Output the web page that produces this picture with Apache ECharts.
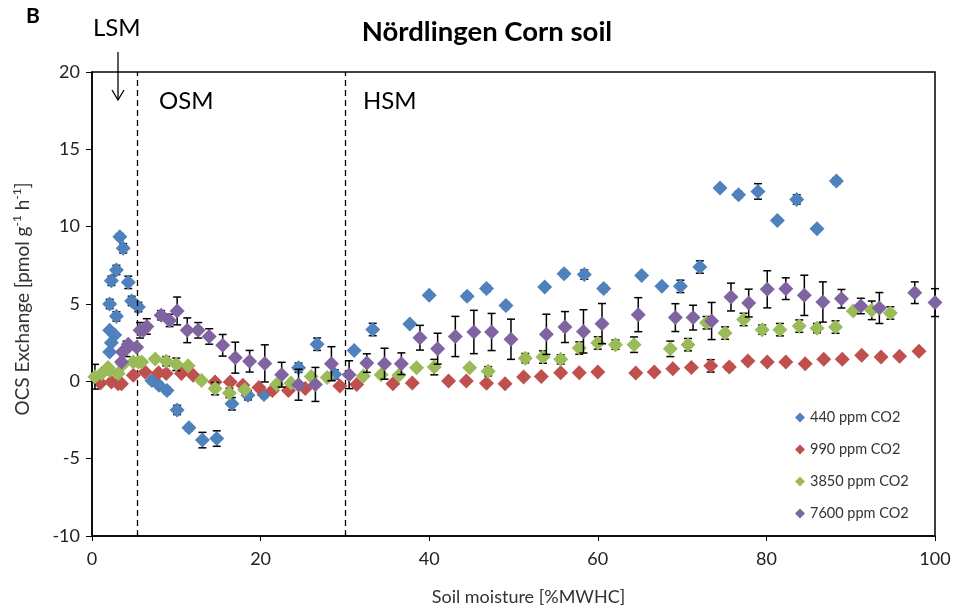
<!doctype html>
<html>
<head>
    <meta charset="UTF-8">
    <title>Nördlingen Corn soil</title>
    <script src="https://cdn.jsdelivr.net/npm/echarts@6/dist/echarts.min.js"></script>
</head>
<body style="margin:0;background:#fff">
<div id="main" style="width:957px;height:616px"></div>
<script type="text/javascript">
    // [soil moisture, OCS exchange, error]
    var co2_440 = [
        [2.1, 1.9, 0], [2.3, 2.5, 0], [2.7, 3.0, 0], [2.1, 3.3, 0], [2.9, 4.2, 0.3], [2.1, 5.0, 0.3],
        [2.3, 6.5, 0.3], [2.9, 7.2, 0.3], [3.3, 9.35, 0.2], [3.7, 8.6, 0.3], [4.3, 6.4, 0.4], [4.7, 5.2, 0.3],
        [5.5, 4.8, 0.3], [7.1, 0.05, 0.2], [7.95, -0.26, 0.2], [8.9, -0.6, 0.2], [10.1, -1.85, 0.3],
        [11.5, -3.0, 0.2], [13.1, -3.8, 0.5], [14.8, -3.7, 0.5], [16.6, -1.45, 0.4], [18.5, -0.9, 0.3],
        [20.4, -0.85, 0.2], [24.5, 0.88, 0.3], [26.7, 2.4, 0.4], [28.8, 0.45, 0.3], [31.1, 2.0, 0],
        [33.3, 3.35, 0.4], [37.7, 3.7, 0], [40.0, 5.56, 0], [44.5, 5.5, 0.2], [46.8, 6.0, 0.2],
        [49.1, 4.9, 0.2], [53.7, 6.1, 0], [56.0, 6.96, 0.2], [58.4, 6.9, 0.3], [60.7, 6.0, 0.2],
        [65.2, 6.85, 0], [67.6, 6.14, 0], [69.8, 6.14, 0.4], [72.1, 7.39, 0.4], [74.5, 12.5, 0],
        [76.7, 12.07, 0.2], [79.0, 12.28, 0.5], [81.3, 10.4, 0], [83.6, 11.76, 0.3], [86.0, 9.87, 0],
        [88.3, 12.95, 0.2]
    ];
    var co2_990 = [
        [1.0, -0.1, 0], [2.3, -0.05, 0], [3.1, -0.15, 0], [3.5, -0.15, 0], [4.9, 0.4, 0], [6.3, 0.6, 0],
        [7.9, 0.55, 0], [8.8, 0.5, 0], [10.6, 0.5, 0], [12.0, 0.4, 0], [14.6, -0.05, 0], [16.4, -0.05, 0],
        [17.9, -0.25, 0], [19.8, -0.4, 0], [21.4, -0.6, 0], [23.3, -0.6, 0], [25.3, -0.47, 0],
        [29.4, -0.3, 0], [31.4, -0.2, 0], [35.7, -0.15, 0], [38.0, -0.1, 0], [42.3, 0.02, 0],
        [44.4, 0.02, 0], [46.8, -0.12, 0], [49.0, -0.15, 0], [51.2, 0.28, 0], [53.3, 0.32, 0],
        [55.6, 0.56, 0], [57.8, 0.56, 0], [60.0, 0.6, 0], [64.5, 0.54, 0], [66.7, 0.6, 0],
        [68.9, 0.82, 0], [71.1, 0.89, 0], [73.4, 1.0, 0.4], [75.6, 0.93, 0.2], [77.8, 1.31, 0],
        [80.1, 1.25, 0], [82.3, 1.25, 0], [84.6, 1.14, 0], [86.8, 1.42, 0], [89.0, 1.42, 0],
        [91.3, 1.68, 0], [93.6, 1.57, 0], [95.8, 1.62, 0], [98.1, 1.94, 0]
    ];
    var co2_3850 = [
        [0.35, 0.3, 0.8], [1.15, 0.5, 0], [1.9, 0.9, 0], [2.1, 0.7, 0], [3.1, 0.5, 0], [3.7, 1.1, 0],
        [4.9, 1.25, 0], [5.5, 1.25, 0], [5.9, 1.25, 0], [7.5, 1.45, 0], [8.8, 1.3, 0.3], [10.0, 1.1, 0.4],
        [11.4, 1.0, 0], [13.0, 0.06, 0], [14.6, -0.47, 0.4], [16.3, -0.75, 0.3], [18.1, -0.54, 0],
        [21.9, -0.2, 0], [23.6, -0.1, 0], [26.0, 0.32, 0], [27.9, 0.24, 0], [32.2, 0.35, 0],
        [34.3, 0.43, 0], [36.4, 0.39, 0], [38.5, 0.88, 0], [40.6, 0.92, 0.5], [44.8, 0.88, 0],
        [47.0, 0.65, 0.3], [51.4, 1.5, 0.3], [53.5, 1.57, 0.4], [55.6, 1.42, 0.3], [57.8, 2.15, 0.4],
        [60.0, 2.48, 0.4], [62.1, 2.37, 0.3], [64.3, 2.37, 0.5], [68.6, 2.1, 0.5], [70.7, 2.37, 0.4],
        [72.9, 3.79, 0.4], [75.1, 3.12, 0.4], [77.3, 4.0, 0.4], [79.5, 3.34, 0.3], [81.6, 3.34, 0.4],
        [83.9, 3.57, 0.4], [86.0, 3.44, 0.3], [88.2, 3.51, 0.4], [90.3, 4.55, 0], [92.5, 4.59, 0.6],
        [94.7, 4.42, 0.4]
    ];
    var co2_7600 = [
        [3.5, 1.25, 0], [3.6, 1.9, 0], [4.1, 2.1, 0.5], [4.3, 2.4, 0], [5.3, 2.2, 0], [5.7, 3.3, 0.5],
        [6.1, 3.3, 0], [6.5, 3.55, 0.5], [8.2, 4.27, 0.3], [9.2, 3.94, 0.4], [10.1, 4.55, 0.9],
        [11.3, 3.3, 0.8], [12.6, 3.3, 0.5], [13.9, 2.9, 0.5], [15.5, 2.33, 0.7], [17.0, 1.53, 1.0],
        [18.7, 1.3, 0.7], [20.5, 1.16, 1.2], [22.5, 0.43, 0.8], [24.5, -0.22, 1.0], [26.5, -0.2, 1.1],
        [28.4, 1.14, 1.1], [30.5, 0.43, 0.9], [32.6, 1.18, 0.6], [34.7, 1.14, 1.0], [36.7, 1.14, 0.7],
        [38.9, 2.82, 0.8], [41.0, 2.11, 1.0], [43.1, 2.9, 1.3], [45.3, 3.19, 1.4], [47.4, 3.19, 1.2],
        [49.7, 2.72, 1.3], [53.9, 3.04, 1.3], [56.1, 3.51, 1.0], [58.3, 3.23, 1.4], [60.5, 3.73, 1.3],
        [64.8, 4.31, 1.1], [69.2, 4.12, 0.9], [71.3, 4.12, 0.8], [73.5, 3.9, 1.2], [75.8, 5.45, 0.9],
        [77.9, 5.06, 0.9], [80.1, 5.95, 1.2], [82.3, 5.99, 0.7], [84.5, 5.56, 1.3], [86.7, 5.13, 1.3],
        [88.9, 5.34, 0.6], [91.2, 4.87, 0.5], [93.4, 4.74, 1.0], [97.6, 5.73, 0.7], [100, 5.09, 0.9]
    ];
    var seriesNames = ['440 ppm CO2', '990 ppm CO2', '3850 ppm CO2', '7600 ppm CO2'];
    var seriesColors = ['#4F81BD', '#C0504D', '#9BBB59', '#8064A2'];
    var seriesData = [co2_440, co2_990, co2_3850, co2_7600];
    var zoneLines = [5.4, 30];

    var font = 'Lato, "Open Sans", sans-serif';

    // error bars drawn with a custom series
    function errorBar(params, api) {
        var x = api.value(0), y = api.value(1), e = api.value(2);
        if (!e) return null;
        var hi = api.coord([x, y + e]);
        var lo = api.coord([x, y - e]);
        var w = 4;
        var style = {stroke: '#000', lineWidth: 1.5};
        return {
            type: 'group',
            children: [
                {type: 'line', shape: {x1: hi[0], y1: hi[1], x2: lo[0], y2: lo[1]}, style: style},
                {type: 'line', shape: {x1: hi[0] - w, y1: hi[1], x2: hi[0] + w, y2: hi[1]}, style: style},
                {type: 'line', shape: {x1: lo[0] - w, y1: lo[1], x2: lo[0] + w, y2: lo[1]}, style: style}
            ]
        };
    }

    var series = [];
    for (var i = 0; i < seriesData.length; i++) {
        series.push({
            name: seriesNames[i] + ' err',
            type: 'custom',
            renderItem: errorBar,
            data: seriesData[i],
            z: 2 + i * 2,
            silent: true
        });
        series.push({
            name: seriesNames[i],
            type: 'scatter',
            symbol: 'diamond',
            symbolSize: 15,
            data: seriesData[i],
            itemStyle: {color: seriesColors[i], opacity: 1},
            z: 3 + i * 2
        });
    }
    series[1].markLine = {
        silent: true,
        symbol: 'none',
        label: {show: false},
        lineStyle: {color: '#000', type: [6, 4], width: 1.3},
        data: zoneLines.map(function (v) { return {xAxis: v}; })
    };

    var myChart = echarts.init(document.getElementById('main'));
    var option = {
        backgroundColor: '#fff',
        animation: false,
        color: seriesColors,
        title: {
            text: 'Nördlingen Corn soil',
            left: 482,
            textAlign: 'center',
            top: 13,
            textStyle: {fontFamily: font, fontSize: 27.5, fontWeight: 'bold', color: '#000'}
        },
        legend: {
            orient: 'vertical',
            left: 790,
            top: 405,
            itemGap: 17,
            itemWidth: 10,
            itemHeight: 10,
            icon: 'diamond',
            data: seriesNames,
            textStyle: {fontFamily: font, fontSize: 14.5, color: '#333'}
        },
        grid: {
            left: 92, right: 22, top: 72, bottom: 80,
            show: true, borderColor: '#000', borderWidth: 1.5
        },
        xAxis: {
            type: 'value',
            min: 0, max: 100, interval: 20,
            name: 'Soil moisture [%MWHC]',
            nameLocation: 'middle',
            nameGap: 52,
            nameTextStyle: {fontFamily: font, fontSize: 18, color: '#333', padding: [0, 0, 0, 30]},
            axisLine: {onZero: false, lineStyle: {color: '#000', width: 1.5}},
            axisTick: {inside: false, length: 5, lineStyle: {color: '#000'}},
            axisLabel: {fontFamily: font, fontSize: 18, color: '#222', margin: 14},
            splitLine: {show: false}
        },
        yAxis: {
            type: 'value',
            min: -10, max: 20, interval: 5,
            name: 'OCS Exchange [pmol g{sup|-1} h{sup|-1}]',
            nameLocation: 'middle',
            nameGap: 58,
            nameTextStyle: {
                fontFamily: font, fontSize: 19, color: '#333', lineHeight: 23,
                padding: [0, 0, 0, 10],
                rich: {sup: {fontFamily: font, fontSize: 12, verticalAlign: 'top', lineHeight: 23, color: '#333'}}
            },
            axisLine: {onZero: false, lineStyle: {color: '#000', width: 1.5}},
            axisTick: {inside: false, length: 6, lineStyle: {color: '#000'}},
            axisLabel: {fontFamily: font, fontSize: 18, color: '#222', margin: 12},
            splitLine: {show: false}
        },
        graphic: [
            {type: 'text', left: 26, top: 6, style: {text: 'B', font: 'bold 21px ' + font, fill: '#000'}},
            {type: 'text', left: 93, top: 16, style: {text: 'LSM', font: '24px ' + font, fill: '#000'}},
            {type: 'text', left: 159, top: 89, style: {text: 'OSM', font: '24px ' + font, fill: '#000'}},
            {type: 'text', left: 363, top: 89, style: {text: 'HSM', font: '24px ' + font, fill: '#000'}},
            {type: 'line', shape: {x1: 118, y1: 52, x2: 118, y2: 100}, style: {stroke: '#000', lineWidth: 1.3}},
            {type: 'polyline', shape: {points: [[112, 90], [118, 100], [124, 90]]}, style: {stroke: '#000', lineWidth: 1.3, fill: null}}
        ],
        series: series
    };
    myChart.setOption(option);
</script>
</body>
</html>
